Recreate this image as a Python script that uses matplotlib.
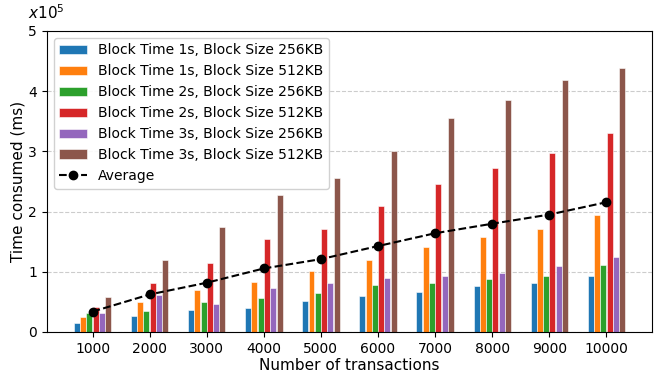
import numpy as np
import matplotlib.pyplot as plt

# Transaction counts on the x axis
transactions = ['1000', '2000', '3000', '4000', '5000',
                '6000', '7000', '8000', '9000', '10000']

# Time consumed (ms) for each block time / block size setting
bt1_256 = [15500, 27000, 36500, 40000, 51500, 59800, 66400, 76400, 80800, 93500]
bt1_512 = [25000, 50000, 70000, 82600, 101300, 119600, 141700, 157300, 171600, 194900]
bt2_256 = [31500, 35000, 49000, 56000, 64800, 78000, 81900, 87500, 92500, 110700]
bt2_512 = [41500, 81000, 114600, 154500, 171600, 209300, 245800, 273000, 297300, 331100]
bt3_256 = [31000, 61000, 46500, 72600, 80800, 89700, 93600, 98500, 109000, 124600]
bt3_512 = [58000, 119600, 174400, 227600, 255800, 300000, 355000, 386000, 418600, 438000]
average = [33800, 62300, 81800, 105500, 121000, 142700, 164000, 179800, 195000, 215500]

series = [
    ('Block Time 1s, Block Size 256KB', bt1_256, '#1f77b4'),
    ('Block Time 1s, Block Size 512KB', bt1_512, '#ff7f0e'),
    ('Block Time 2s, Block Size 256KB', bt2_256, '#2ca02c'),
    ('Block Time 2s, Block Size 512KB', bt2_512, '#d62728'),
    ('Block Time 3s, Block Size 256KB', bt3_256, '#9467bd'),
    ('Block Time 3s, Block Size 512KB', bt3_512, '#8c564b'),
]

scale = 1e5
x = np.arange(len(transactions))
width = 0.105
step = 0.11

fig = plt.figure(figsize=(6.6, 3.73), dpi=100)
ax = fig.add_axes([0.071, 0.110, 0.917, 0.807])

for j, (label, values, color) in enumerate(series):
    ax.bar(x + (j - 2.5) * step, np.array(values) / scale, width,
           color=color, edgecolor='white', linewidth=0.4, label=label, zorder=2)

ax.plot(x, np.array(average) / scale, 'k--o', markersize=6, linewidth=1.5,
        label='Average', zorder=3)

ax.set_xticks(x)
ax.set_xticklabels(transactions, fontsize=10)
ax.set_xlim(-0.8, 9.8)
ax.set_ylim(0, 5)
ax.set_yticks([0, 1, 2, 3, 4, 5])
ax.tick_params(axis='y', labelsize=10)
ax.grid(axis='y', linestyle='--', color='#cccccc', linewidth=0.8, zorder=0)
ax.set_axisbelow(True)

ax.set_xlabel('Number of transactions', fontsize=11, labelpad=2)
ax.set_ylabel('Time consumed (ms)', fontsize=11, labelpad=2)
ax.text(0.0, 1.03, r'$x10^5$', transform=ax.transAxes, fontsize=11,
        ha='center', va='bottom')

# bars first, average line last in the legend
handles, labels = ax.get_legend_handles_labels()
handles = handles[1:] + handles[:1]
labels = labels[1:] + labels[:1]
ax.legend(handles, labels, loc='upper left', fontsize=10, framealpha=0.9)

fig.savefig('out.png', dpi=100)
